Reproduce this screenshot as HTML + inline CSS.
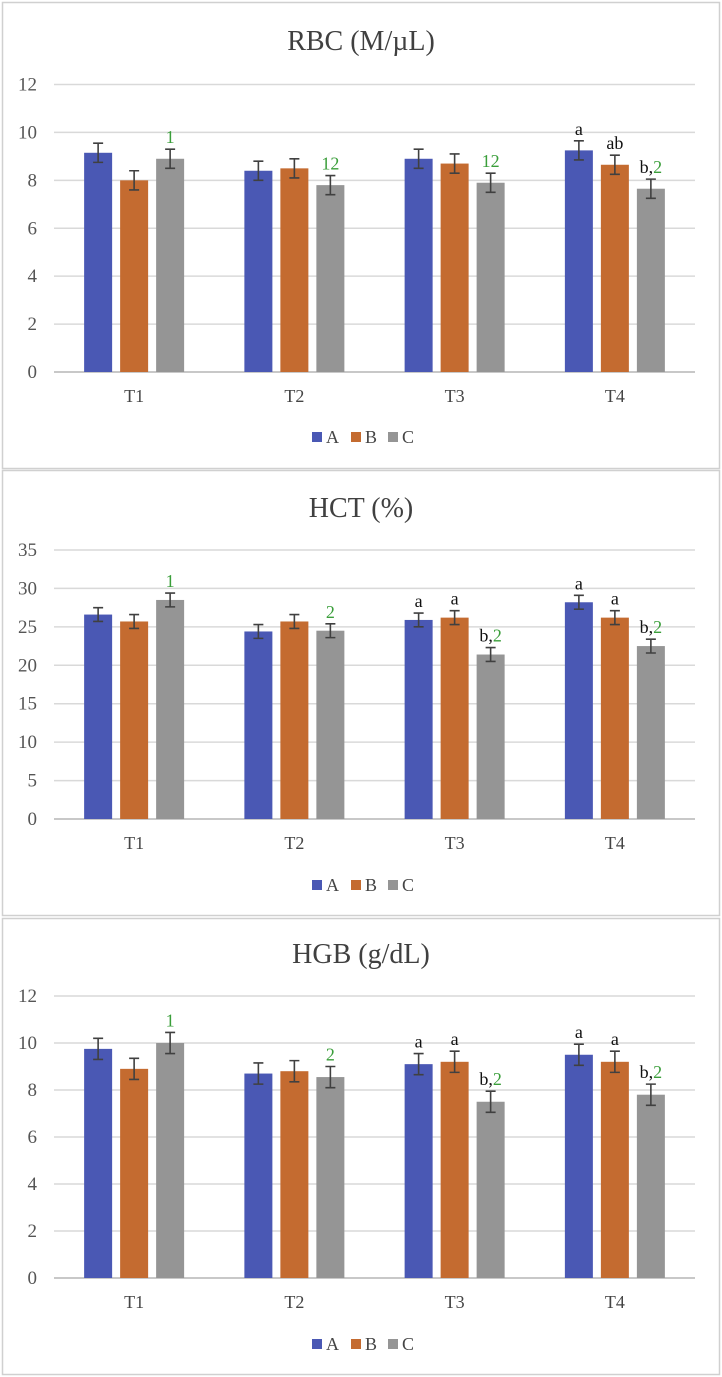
<!DOCTYPE html>
<html><head><meta charset="utf-8"><style>
body{margin:0;background:#fff;}
svg{display:block;font-family:"Liberation Serif",serif;}
</style></head><body>
<svg id="chart" width="722" height="1377" viewBox="0 0 722 1377"></svg>
<script>
const categories = ["T1","T2","T3","T4"];
const seriesNames = ["A","B","C"];
const rbcValues = [[9.15,8.4,8.9,9.25],[8.0,8.5,8.7,8.65],[8.9,7.8,7.9,7.65]];
const rbcErrors = [0.4,0.4,0.4];
const rbcTicks = [0,2,4,6,8,10,12];
const rbcNotes = [[["",""],["",""],["",""],["a",""]],[["",""],["",""],["",""],["ab",""]],[["","1"],["","12"],["","12"],["b,","2"]]];
const hctValues = [[26.6,24.4,25.9,28.2],[25.7,25.7,26.2,26.2],[28.5,24.5,21.4,22.5]];
const hctErrors = [0.9,0.9,0.9];
const hctTicks = [0,5,10,15,20,25,30,35];
const hctNotes = [[["",""],["",""],["a",""],["a",""]],[["",""],["",""],["a",""],["a",""]],[["","1"],["","2"],["b,","2"],["b,","2"]]];
const hgbValues = [[9.75,8.7,9.1,9.5],[8.9,8.8,9.2,9.2],[10.0,8.55,7.5,7.8]];
const hgbErrors = [0.45,0.45,0.45];
const hgbTicks = [0,2,4,6,8,10,12];
const hgbNotes = [[["",""],["",""],["a",""],["a",""]],[["",""],["",""],["a",""],["a",""]],[["","1"],["","2"],["b,","2"],["b,","2"]]];

const NS="http://www.w3.org/2000/svg";
const svg=document.getElementById('chart');
const colors=["#4a58b4","#c46b30","#959595"];
function mk(tag,attrs,parent){const e=document.createElementNS(NS,tag);for(const k in attrs)e.setAttribute(k,attrs[k]);parent.appendChild(e);return e;}

function panel(cfg){
  const g=mk('g',{},svg);
  
  
  const bg=mk('rect',{x:2.5,y:cfg.top+0.5,width:717,height:cfg.bottom-cfg.top,fill:'#fff',stroke:'#d0d0d0','stroke-width':1.5},g);
  
  
  const t=mk('text',{x:361,y:cfg.titleY,'text-anchor':'middle','font-size':28,fill:'#404040'},g);
  t.textContent=cfg.title;
  
  
  const x0=54,x1=695,maxV=cfg.ticks[cfg.ticks.length-1];
  const y=v=>cfg.y0-(v/maxV)*(cfg.y0-cfg.yTop);
  const gw=(x1-x0)/categories.length;
  const xc=i=>x0+gw*(i+0.5);
  cfg.ticks.forEach(v=>{
    const l=mk('line',{x1:x0,x2:x1,y1:y(v),y2:y(v),stroke:v===0?'#c8c8c8':'#d9d9d9','stroke-width':v===0?2:1.5},g);
    
    
    const tl=mk('text',{x:37,y:y(v)+6,'text-anchor':'end','font-size':19,fill:'#555'},g);
    tl.textContent=v;
    
    
  });
  const bw=28,step=36;
  cfg.values.forEach((ser,s)=>{
    ser.forEach((v,i)=>{
      const cx=xc(i)+(s-1)*step;
      const r=mk('rect',{x:cx-bw/2,y:y(v),width:bw,height:cfg.y0-y(v),fill:colors[s]},g);
      
      
      const e=cfg.errors[s];
      const yt=y(v+e),yb=y(v-e);
      const eb=mk('path',{d:`M${cx} ${yt}V${yb}M${cx-5} ${yt}H${cx+5}M${cx-5} ${yb}H${cx+5}`,stroke:'#404040','stroke-width':1.6,fill:'none'},g);
      
      
      const n=cfg.notes[s][i];
      if(n[0]||n[1]){
        const tx=mk('text',{x:cx,y:yt-6,'text-anchor':'middle','font-size':18},g);
        
        
        if(n[0]){const a=mk('tspan',{fill:'#111'},tx);a.textContent=n[0];}
        if(n[1]){const b=mk('tspan',{fill:'#3a9e3a'},tx);b.textContent=n[1];}
      }
    });
  });
  categories.forEach((c,i)=>{
    const tl=mk('text',{x:xc(i),y:cfg.catY,'text-anchor':'middle','font-size':18,fill:'#444'},g);
    tl.textContent=c;
    
    
  });
  const lx=[312,351,388];
  seriesNames.forEach((n,s)=>{
    const sw=mk('rect',{x:lx[s],y:cfg.legY-11,width:10,height:10,fill:colors[s]},g);
    
    
    const lt=mk('text',{x:lx[s]+14,y:cfg.legY,'font-size':18,fill:'#444'},g);
    lt.textContent=n;
    
    
  });
}
panel({name:'rbc',title:'RBC (M/µL)',top:2,bottom:468,titleY:50,yTop:84.5,y0:372,catY:402,legY:443,ticks:rbcTicks,values:rbcValues,errors:rbcErrors,notes:rbcNotes});
panel({name:'hct',title:'HCT (%)',top:470,bottom:915,titleY:517,yTop:550,y0:819,catY:849,legY:891,ticks:hctTicks,values:hctValues,errors:hctErrors,notes:hctNotes});
panel({name:'hgb',title:'HGB (g/dL)',top:918,bottom:1374,titleY:963,yTop:996,y0:1278,catY:1308,legY:1350,ticks:hgbTicks,values:hgbValues,errors:hgbErrors,notes:hgbNotes});
</script>
</body></html>
